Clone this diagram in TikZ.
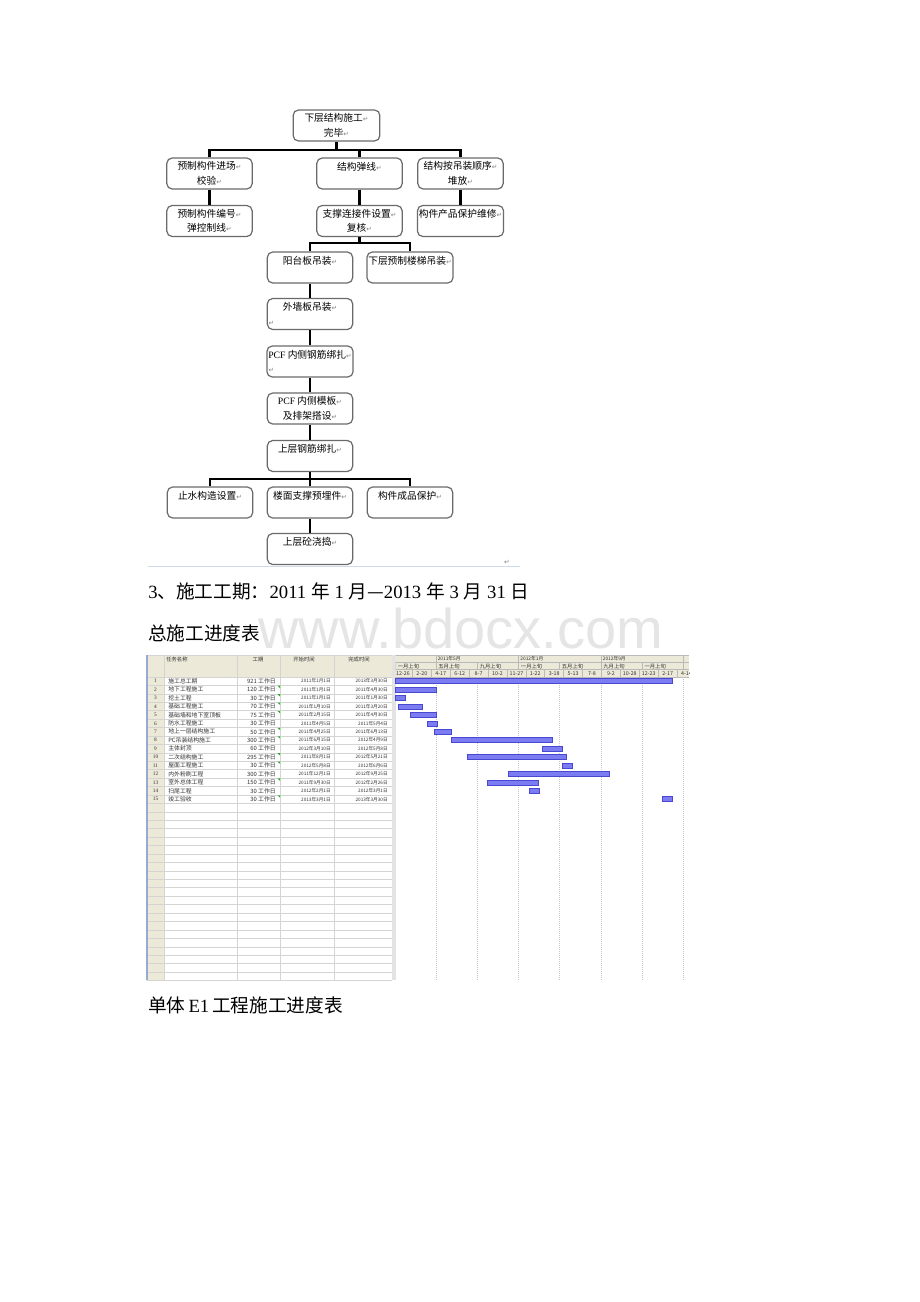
\documentclass[tikz,border=0pt]{standalone}
\usepackage{fontspec}
\setmainfont{Liberation Serif}
\newfontfamily\cjk{Noto Sans CJK SC}
\newfontfamily\sym{DejaVu Sans}
\newfontfamily\wmfont{Liberation Sans}
\definecolor{boxline}{HTML}{6A6A6A}
\definecolor{beige}{HTML}{ECE9D8}
\definecolor{barfill}{HTML}{7C7CF2}
\definecolor{barline}{HTML}{4848D0}
\definecolor{gridc}{HTML}{D4D4D4}
\definecolor{flagc}{HTML}{22B022}
\newcommand{\ret}{{\sym\fontsize{5}{5}\selectfont\color{gray}↵}}
\newcommand{\gp}{\hspace{3.6pt}}
\tikzset{
  box/.style={draw=boxline, line width=0.9pt, rounded corners=4pt, fill=white,
    minimum width=64pt, minimum height=23.25pt, inner sep=1pt, align=center,
    font=\cjk\fontsize{7.3}{10.9}\selectfont},
  conn/.style={line width=1.6pt, black},
  bigtext/.style={anchor=base west, inner sep=0pt, font=\fontsize{14}{14}\selectfont},
  tname/.style={anchor=west, inner sep=0pt, text=black!80, font=\cjk\fontsize{4.4}{5}\selectfont},
  tdate/.style={anchor=east, inner sep=0pt, text=black!80, font=\cjk\fontsize{3.5}{4}\selectfont},
  thead/.style={inner sep=0pt, text=black!80, font=\cjk\fontsize{4}{5}\selectfont},
  tlab/.style={inner sep=0pt, text=black!80, font=\cjk\fontsize{3.6}{4}\selectfont},
  gbar/.style={fill=barfill, draw=barline, line width=0.4pt},
}
\begin{document}
\begin{tikzpicture}[x=0.75pt,y=-0.75pt]
\useasboundingbox (0,0) rectangle (920,1302);
\fill[white] (0,0) rectangle (920,1302);

% ---------------- flowchart ----------------
\node[box, minimum width=65pt] (top) at (336.5,125.5) {下层结构施工\ret\\完毕\ret};
\node[box] (l2) at (209.5,173.5) {预制构件进场\ret\\校验\ret};
\node[box] (m2) at (359.5,173.5) {结构弹线\ret\\\mbox{}};
\node[box] (r2) at (460.5,173.5) {结构按吊装顺序\ret\\堆放\ret};
\node[box] (l3) at (209.5,221) {预制构件编号\ret\\弹控制线\ret};
\node[box] (m3) at (359.5,221) {支撑连接件设置\ret\\复核\ret};
\node[box] (r3) at (460.5,221) {构件产品保护维修\ret\\\mbox{}};
\node[box] (b4) at (310,267.5) {阳台板吊装\ret\\\mbox{}};
\node[box] (s4) at (410,267.5) {下层预制楼梯吊装\ret\\\mbox{}};
\node[box] (b5) at (310,314) {外墙板吊装\ret\\\makebox[62pt][l]{\ret}};
\node[box] (b6) at (310,361.5) {{\rmfamily PCF} 内侧钢筋绑扎\ret\\\makebox[62pt][l]{\ret}};
\node[box] (b7) at (310,408.5) {{\rmfamily PCF} 内侧模板\ret\\及排架搭设\ret};
\node[box] (b8) at (310,456) {上层钢筋绑扎\ret\\\mbox{}};
\node[box] (c9) at (210,502.5) {止水构造设置\ret\\\mbox{}};
\node[box] (d9) at (310,502.5) {楼面支撑预埋件\ret\\\mbox{}};
\node[box] (e9) at (410,502.5) {构件成品保护\ret\\\mbox{}};
\node[box] (b10) at (310,549) {上层砼浇捣\ret\\\mbox{}};

\coordinate (bar1) at (0,150);
\coordinate (bar2) at (0,243);
\coordinate (bar3) at (0,479);
\draw[conn] (top.south) -- (top.south |- bar1);
\draw[conn] (l2.north) |- (r2.north |- bar1) -- (r2.north);
\draw[conn] (m2.north) -- (m2.north |- bar1);
\draw[conn] (l2.south) -- (l3.north);
\draw[conn] (m2.south) -- (m3.north);
\draw[conn] (r2.south) -- (r3.north);
\draw[conn] (m3.south) -- (m3.south |- bar2);
\draw[conn] (b4.north) |- (s4.north |- bar2) -- (s4.north);
\draw[conn] (b4.south) -- (b5.north);
\draw[conn] (b5.south) -- (b6.north);
\draw[conn] (b6.south) -- (b7.north);
\draw[conn] (b7.south) -- (b8.north);
\draw[conn] (b8.south) -- (b8.south |- bar3);
\draw[conn] (c9.north) |- (e9.north |- bar3) -- (e9.north);
\draw[conn] (d9.north) -- (d9.north |- bar3);
\draw[conn] (d9.south) -- (b10.north);

\draw[color={rgb,255:red,205;green,218;blue,235}, line width=0.6pt] (148,566) -- (520,566);
\node[inner sep=0pt] (pm) at (507,562) {\ret};

% ---------------- texts ----------------
\node[bigtext] (t1) at (148,598) {3{\cjk 、施工工期：}2011\gp{\cjk 年}\gp1\gp{\cjk 月—}2013\gp{\cjk 年}\gp3\gp{\cjk 月}\gp31\gp{\cjk 日}};
\node[anchor=base west, inner sep=0pt, text=black!10, font=\wmfont\fontsize{42}{42}\selectfont] (wm) at (258,648) {www.bdocx.com};
\node[bigtext] (t2) at (148,640) {\cjk 总施工进度表};
\node[bigtext] (t3) at (148,1012) {{\cjk 单体}\hspace{2.2pt}E1\hspace{2.2pt}{\cjk 工程施工进度表}};

% ---------------- gantt table ----------------
\fill[beige] (147,655) rectangle (392,677);
\fill[beige] (147,677) rectangle (164,980);
\foreach \k in {0,...,36} {
  \draw[gridc, line width=0.4pt] (147,{677+8.43*\k}) -- (392,{677+8.43*\k});
}
\foreach \xx in {164,237,280,334,392} {
  \draw[gridc, line width=0.4pt] (\xx,655) -- (\xx,980);
}
\draw[gridc, line width=0.4pt] (147,655) -- (392,655);
\draw[color={rgb,255:red,150;green,170;blue,210}, line width=0.8pt] (147,655) -- (147,980);
\fill[gray!22] (392,655) rectangle (395.5,980);

\node[thead, anchor=north west] (h1) at (166,657) {任务名称};
\node[thead, anchor=north] (h2) at (258,657) {工期};
\node[thead, anchor=north] (h3) at (304,657) {开始时间};
\node[thead, anchor=north] (h4) at (359,657) {完成时间};

% gantt header
\begin{scope}
\clip (395.5,655) rectangle (689,677);
\fill[beige] (393,655) rectangle (689,677);
\foreach \yy in {655,662.3,669.6,677} {
  \draw[gray!55, line width=0.4pt] (393,\yy) -- (689,\yy);
}
\foreach \xx in {436,518.7,601.1,683} {
  \draw[gray!55, line width=0.4pt] (\xx,655) -- (\xx,662.3);
}
\foreach \xx in {395.5,436,477.5,518.7,559.6,601.1,642.3,683} {
  \draw[gray!55, line width=0.4pt] (\xx,662.3) -- (\xx,669.6);
}
\foreach \k in {0,...,16} {
  \draw[gray!55, line width=0.4pt] ({393.5+18.906*\k},669.6) -- ({393.5+18.906*\k},677);
}
\foreach \xx/\lab in {437.5/2011年5月,520.2/2012年1月,602.6/2012年9月} {
  \node[tlab, anchor=west] at (\xx,659) {\lab};
}
\foreach \xx/\lab in {397.5/一月上旬,438/五月上旬,479.5/九月上旬,520.7/一月上旬,561.6/五月上旬,603.1/九月上旬,644.3/一月上旬} {
  \node[tlab, anchor=west, font=\cjk\fontsize{4}{4}\selectfont] at (\xx,666) {\lab};
}
\foreach \k/\lab in {0/12-26,1/2-20,2/4-17,3/6-12,4/8-7,5/10-2,6/11-27,7/1-22,8/3-18,9/5-13,10/7-8,11/9-2,12/10-28,13/12-23,14/2-17,15/4-14} {
  \node[tlab, font=\cjk\fontsize{4}{4}\selectfont] at ({393.5+18.906*\k+9.45},673.4) {\lab};
}
\end{scope}

% gantt body grid
\foreach \xx in {436,477.5,518.7,559.6,601.1,642.3,683} {
  \draw[gray!45, line width=0.4pt, dash pattern=on 0.75pt off 0.75pt] (\xx,677) -- (\xx,980);
}

% rows
\foreach \i/\nm/\du/\fl/\st/\en/\a/\b in {
1/施工总工期/921/0/2011年1月1日/2013年3月30日/0/820,
2/地下工程施工/120/1/2011年1月1日/2011年4月30日/0/120,
3/挖土工程/30/1/2011年1月1日/2011年1月30日/0/30,
4/基础工程施工/70/1/2011年1月10日/2011年3月20日/9/79,
5/基础墙和地下室顶板/75/1/2011年2月15日/2011年4月30日/45/120,
6/防水工程施工/30/0/2011年4月5日/2011年5月4日/94/124,
7/地上一层结构施工/50/1/2011年4月25日/2011年6月13日/114/164,
8/PC吊装结构施工/300/1/2011年6月15日/2012年4月9日/165/465,
9/主体封顶/60/0/2012年3月10日/2012年5月8日/434/494,
10/二次结构施工/295/1/2011年8月1日/2012年5月21日/212/507,
11/屋面工程施工/30/1/2012年5月8日/2012年6月6日/493/523,
12/内外粉刷工程/300/0/2011年12月1日/2012年9月25日/334/634,
13/室外总体工程/150/1/2011年9月30日/2012年2月26日/272/422,
14/扫尾工程/30/0/2012年2月1日/2012年3月1日/396/426,
15/竣工验收/30/1/2013年3月1日/2013年3月30日/790/820} {
  \pgfmathsetmacro\yc{681.2+(\i-1)*8.43}
  \node[inner sep=0pt, text=black!80, font=\fontsize{4}{4}\selectfont] at (155.5,\yc) {\i};
  \node[tname] at (168,\yc) {\nm};
  \node[tname, anchor=east] at (276,\yc) {\du\ 工作日};
  \ifnum\fl=1
    \fill[flagc] (277.5,{\yc-3.9}) -- (280,{\yc-3.9}) -- (280,{\yc-1.6}) -- cycle;
  \fi
  \node[tdate] at (331,\yc) {\st};
  \node[tdate] at (388,\yc) {\en};
  \draw[gbar] ({395.5+0.3376*\a},{\yc-2.5}) rectangle ({395.5+0.3376*\b},{\yc+2.5});
}
\end{tikzpicture}
\end{document}
